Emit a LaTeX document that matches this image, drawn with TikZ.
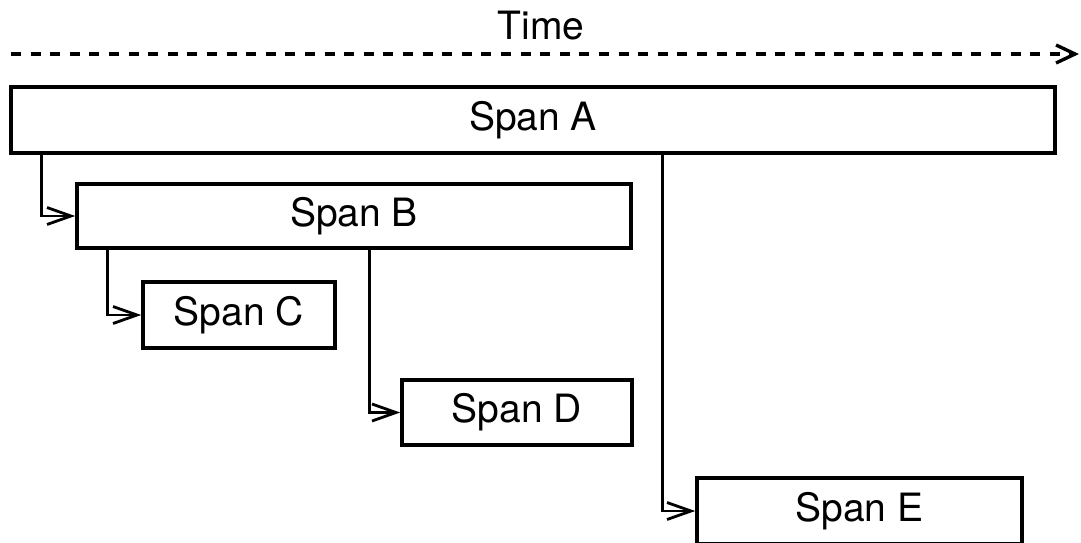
\documentclass[tikz,border=0pt]{standalone}
\usepackage{fontspec}
\setmainfont{TeX Gyre Heros}
\usetikzlibrary{arrows.meta}
\begin{document}
\begin{tikzpicture}[x=1pt,y=-1pt,
  spanbox/.style={draw,line width=3.6pt,inner sep=0pt,
    font=\fontsize{39}{41}\selectfont},
  conn/.style={line width=2.8pt,-{Straight Barb[length=24pt,width=17pt,line width=2.8pt]}},
  timeline/.style={line width=3.4pt,dash pattern=on 10pt off 9.6pt,
    -{Straight Barb[length=19pt,width=18pt,line width=3.4pt]}}]
  % canvas
  \clip (0,0) rectangle (1081,542);
  \fill[white] (0,0) rectangle (1081,542);

  % time axis
  \coordinate (t0) at (11,54);
  \coordinate (t1) at (1079,54);
  \draw[timeline] (t0) -- (t1);
  \node[font=\fontsize{39}{41}\selectfont] (time) at (541,26) {Time};

  % spans
  \node[spanbox,minimum width=1044pt,minimum height=66pt] (A) at (533,120) {Span A};
  \node[spanbox,minimum width=554pt,minimum height=64pt] (B) at (354,216) {Span B};
  \node[spanbox,minimum width=192pt,minimum height=66pt] (C) at (239,315) {Span C};
  \node[spanbox,minimum width=230pt,minimum height=65pt] (D) at (517,412.5) {Span D};
  \node[spanbox,minimum width=325pt,minimum height=66pt] (E) at (859.5,511) {Span E};

  % parent -> child links
  \draw[conn] (A.south west) ++(32,0) |- (B.west);
  \draw[conn] (B.south west) ++(32,0) |- (C.west);
  \draw[conn] (B.south west) ++(294,0) |- (D.west);
  \draw[conn] (A.south west) ++(653,0) |- (E.west);
\end{tikzpicture}
\end{document}
